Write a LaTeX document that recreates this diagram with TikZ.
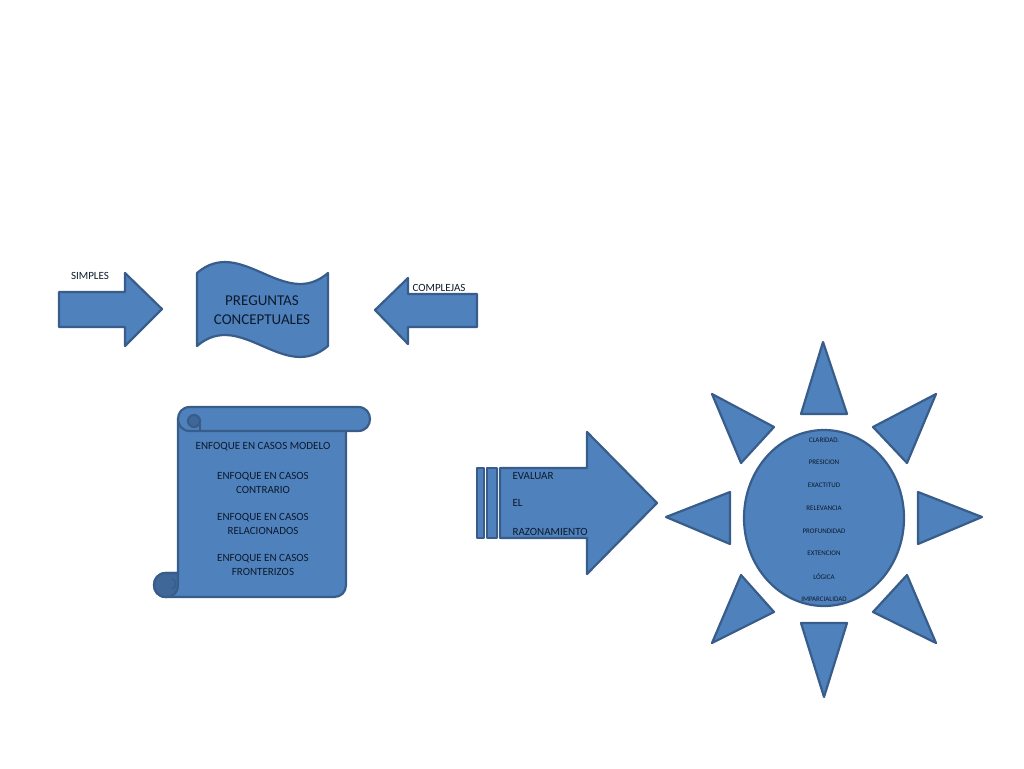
\documentclass[tikz,border=0pt]{standalone}
\usepackage{fontspec}
\setmainfont{Carlito}

\definecolor{shapefill}{HTML}{4F81BD}
\definecolor{shapeline}{HTML}{385D8A}
\definecolor{curlfill}{HTML}{3F6797}
\definecolor{inktext}{HTML}{0D1A2B}

\begin{document}
\begin{tikzpicture}[x=1pt,y=-1pt,
  blueshape/.style={fill=shapefill,draw=shapeline,line width=2.2pt,line join=round},
  curlshape/.style={fill=curlfill,draw=shapeline,line width=2.2pt,line join=round},
  bigtext/.style={text=inktext,align=center,font=\fontsize{15}{19}\selectfont},
  midtext/.style={text=inktext,align=center,font=\fontsize{11}{14}\selectfont},
  suntext/.style={text=inktext,font=\fontsize{7}{8}\selectfont}]
\useasboundingbox (0,0) rectangle (1024,768);

% arrows round the wave
\draw [blueshape] (59,292) -- (125,292) -- (125,273) -- (162,309) -- (125,346) -- (125,327) -- (59,327) -- cycle;
\draw [blueshape] (477,294) -- (408,294) -- (408,278) -- (375,310) -- (408,344) -- (408,327) -- (477,327) -- cycle;
\node [midtext] (simples) at (90,276) {SIMPLES};
\node [midtext] (complejas) at (439,288) {COMPLEJAS};

% wave
\draw [blueshape] (197,273) .. controls (241,235) and (284,311) .. (328,273) -- (328,346) .. controls (284,384) and (241,308) .. (197,346) -- cycle;
\node [bigtext] (preguntas) at (262,310) {PREGUNTAS\\CONCEPTUALES};

% scroll
\draw [blueshape] (178,419) -- (178,573) -- (166,573) .. controls (150,573) and (150,597) .. (166,597) -- (334,597) .. controls (341,597) and (346,592) .. (346,585) -- (346,419) -- cycle;
\draw [curlshape] (178,573) -- (166,573) .. controls (150,573) and (150,597) .. (166,597) .. controls (174,597) and (178,592) .. (178,585) -- cycle;
\draw [shapeline,line width=1.2pt] (172,579) .. controls (177,580) and (177,587) .. (172,589);
\draw [blueshape] (190,407) -- (358,407) .. controls (374,407) and (374,431) .. (358,431) -- (190,431) .. controls (174,431) and (174,407) .. (190,407) -- cycle;
\draw [curlshape] (194,421) circle [radius=6];
\draw [shapeline,line width=1.6pt] (200,421) -- (200,431);

\node [midtext] (modelo) at (263,447) {ENFOQUE EN CASOS MODELO};
\node [midtext] (contrario) at (263,482.5) {ENFOQUE EN CASOS\\CONTRARIO};
\node [midtext] (relacionados) at (263,524) {ENFOQUE EN CASOS\\RELACIONADOS};
\node [midtext] (fronterizos) at (263,565) {ENFOQUE EN CASOS\\FRONTERIZOS};

% striped arrow
\draw [blueshape] (477,468) rectangle (484,538);
\draw [blueshape] (487,468) rectangle (497,538);
\draw [blueshape] (500,468) -- (587,468) -- (587,432) -- (657,503) -- (587,574) -- (587,538) -- (500,538) -- cycle;
\node [midtext,anchor=west] (evaluar) at (509,476) {EVALUAR};
\node [midtext,anchor=west] (el) at (509,503) {EL};
\node [midtext,anchor=west] (razonamiento) at (509,532) {RAZONAMIENTO};

% sun rays
\draw [blueshape] (823,342) -- (847,414) -- (801,414) -- cycle;
\draw [blueshape] (824,697) -- (847,623) -- (801,623) -- cycle;
\draw [blueshape] (666,517) -- (730,492) -- (730,544) -- cycle;
\draw [blueshape] (982,517) -- (918,492) -- (918,544) -- cycle;
\draw [blueshape] (712,394) -- (774,427) -- (741,463) -- cycle;
\draw [blueshape] (936,394) -- (873,427) -- (907,463) -- cycle;
\draw [blueshape] (712,643) -- (774,612) -- (741,575) -- cycle;
\draw [blueshape] (936,643) -- (873,612) -- (907,575) -- cycle;

% sun
\draw [blueshape] (824,518) ellipse [x radius=80, y radius=88];
\node [suntext] (claridad) at (824,440) {CLARIDAD.};
\node [suntext] (presicion) at (824,462.7) {PRESICION};
\node [suntext] (exactitud) at (824,485.4) {EXACTITUD};
\node [suntext] (relevancia) at (824,508.1) {RELEVANCIA};
\node [suntext] (profundidad) at (824,530.8) {PROFUNDIDAD};
\node [suntext] (extencion) at (824,553.5) {EXTENCION};
\node [suntext] (logica) at (824,576.2) {LÓGICA};
\node [suntext] (imparcialidad) at (824,598.9) {IMPARCIALIDAD};
\end{tikzpicture}
\end{document}
